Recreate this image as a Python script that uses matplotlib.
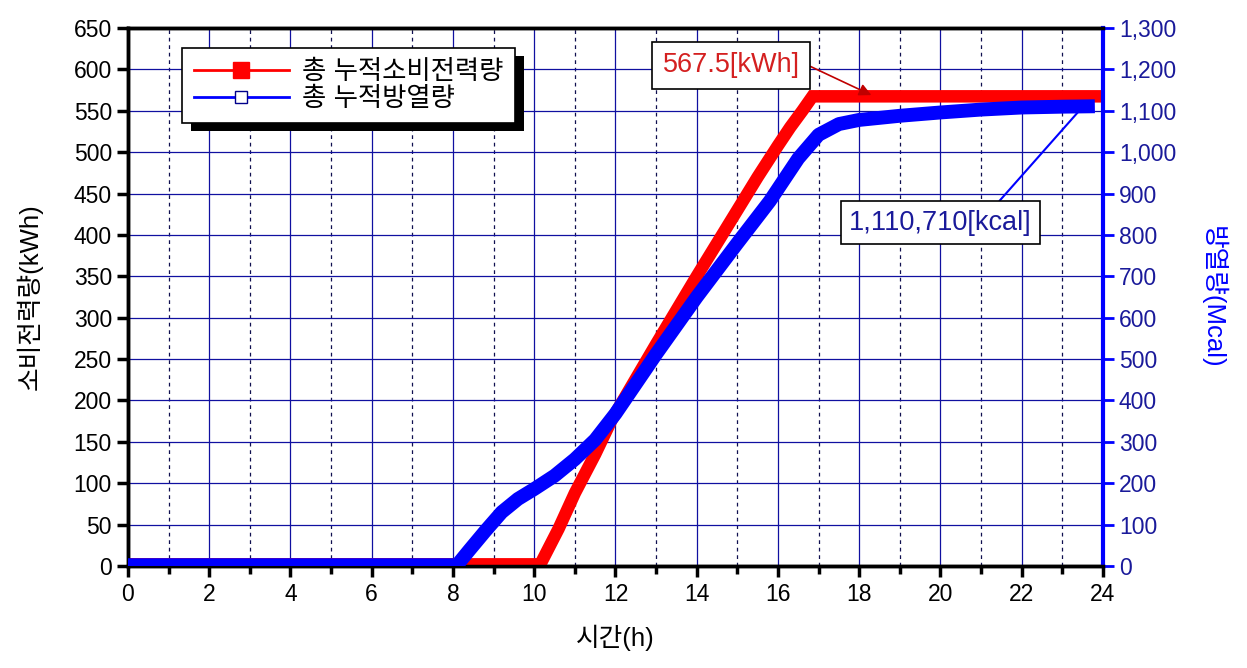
import numpy as np
import matplotlib
matplotlib.use("Agg")
import matplotlib.pyplot as plt
from matplotlib.lines import Line2D
from matplotlib.patches import Rectangle
from matplotlib.ticker import MultipleLocator, FuncFormatter

plt.rcParams['font.family'] = ['Liberation Sans', 'Noto Sans CJK KR']

# ---- data ----
power_hours = [0, 10.15, 10.6, 11.0, 11.5, 11.9, 13.0, 14.0, 15.0, 15.5, 16.0, 16.3, 16.6, 16.85, 24]
power_kwh = [2, 2, 45, 88, 135, 176, 268, 350, 430, 470, 508, 530, 550, 567.5, 567.5]

heat_hours = [0, 8.1, 8.4, 8.8, 9.2, 9.6, 10.0, 10.5, 11.0, 11.5, 12.0, 13.0, 14.0, 15.0, 15.8,
              16.5, 17.0, 17.5, 18.0, 19.0, 20.0, 21.0, 22.0, 23.0, 23.8]
heat_mcal = [2, 2, 38, 85, 130, 162, 186, 218, 258, 305, 368, 512, 650, 780, 882,
             985, 1042, 1068, 1078, 1088, 1096, 1103, 1108, 1110, 1111]

power_label = '총 누적소비전력량'
heat_label = '총 누적방열량'
power_note = '567.5[kWh]'
heat_note = '1,110,710[kcal]'

navy = '#1a1a9a'
blue = '#0000ff'
red = '#ff0000'

fig = plt.figure(figsize=(12.47, 6.68), dpi=100)
ax = fig.add_axes([0.1026, 0.1527, 0.7819, 0.8053])
ax2 = ax.twinx()

ax.plot(power_hours, power_kwh, color=red, linewidth=9, solid_joinstyle='miter',
        solid_capstyle='butt', zorder=3)
ax2.plot(heat_hours, heat_mcal, color=blue, linewidth=10, solid_joinstyle='round',
         solid_capstyle='butt', zorder=3)

ax.set_xlim(0, 24)
ax.set_ylim(0, 650)
ax2.set_ylim(0, 1300)

ax.xaxis.set_major_locator(MultipleLocator(2))
ax.xaxis.set_minor_locator(MultipleLocator(1))
ax.yaxis.set_major_locator(MultipleLocator(50))
ax2.yaxis.set_major_locator(MultipleLocator(100))
ax2.yaxis.set_major_formatter(FuncFormatter(lambda v, p: f'{int(v):,}'))

ax.grid(which='major', color='#1010a0', linewidth=0.9, linestyle='-')
ax.grid(which='minor', axis='x', color='#101050', linewidth=0.9, linestyle=(0, (3, 3)))
ax.set_axisbelow(True)

ax.tick_params(axis='both', which='major', direction='out', length=8, width=2.5,
               labelsize=16.5, colors='black')
ax.tick_params(axis='x', which='minor', direction='out', length=6, width=2.5)
ax.tick_params(axis='x', pad=4)
ax2.tick_params(axis='y', which='major', direction='out', length=8, width=2,
                labelsize=16.5, colors=blue, labelcolor=navy)

for side in ['left', 'bottom', 'top']:
    ax.spines[side].set_linewidth(2.5)
    ax2.spines[side].set_linewidth(2.5)
ax2.spines['right'].set_color(blue)
ax2.spines['right'].set_linewidth(3)

ax.set_xlabel('시간(h)', fontsize=18.5, labelpad=14)
ax.set_ylabel('소비전력량(kWh)', fontsize=18.5, labelpad=22)
ax2.set_ylabel('방열량(Mcal)', fontsize=18.5, color=blue, rotation=270, labelpad=36)

# annotations
ax.annotate(power_note, xy=(18.3, 569), xytext=(14.85, 605), fontsize=19.5, color='#d42020',
            ha='center', va='center',
            bbox=dict(boxstyle='square,pad=0.38', fc='white', ec='black', lw=1.2),
            arrowprops=dict(arrowstyle='-|>', color='#c00000', lw=1.2, relpos=(1, 0.65),
                            shrinkA=0, shrinkB=0, mutation_scale=18),
            zorder=6)
ax2.annotate(heat_note, xy=(23.45, 1104), xytext=(20.0, 830), fontsize=19.5, color=navy,
             ha='center', va='center',
             bbox=dict(boxstyle='square,pad=0.3', fc='white', ec='black', lw=1.2),
             arrowprops=dict(arrowstyle='-', color=blue, lw=1.5, relpos=(0.8, 1.15),
                             shrinkA=0, shrinkB=0),
             zorder=6)

# legend
handles = [Line2D([], [], color=red, lw=2, marker='s', markersize=11,
                  markerfacecolor=red, markeredgecolor=red),
           Line2D([], [], color=blue, lw=2, marker='s', markersize=8,
                  markerfacecolor='white', markeredgecolor='#00008b')]
leg = ax2.legend(handles, [power_label, heat_label], loc='upper left',
                 bbox_to_anchor=(0.0554, 0.963), borderaxespad=0, fontsize=19,
                 frameon=True, fancybox=False, edgecolor='black', framealpha=1,
                 handlelength=3.6, handletextpad=0.5, labelspacing=0.1,
                 borderpad=0.45)
leg.get_frame().set_linewidth(1.2)
leg.set_zorder(7)

# hard black drop shadow behind the legend box
fig.canvas.draw()
bb = leg.get_window_extent()
inv = fig.transFigure.inverted()
(x0, y0), (x1, y1) = inv.transform([(bb.x0 + 9, bb.y0 - 8), (bb.x1 + 9, bb.y1 - 8)])
shadow = Rectangle((x0, y0), x1 - x0, y1 - y0, transform=fig.transFigure,
                   facecolor='black', edgecolor='none', zorder=6.5, clip_on=False)
ax2.add_artist(shadow)

fig.savefig('out.png', dpi=100)
